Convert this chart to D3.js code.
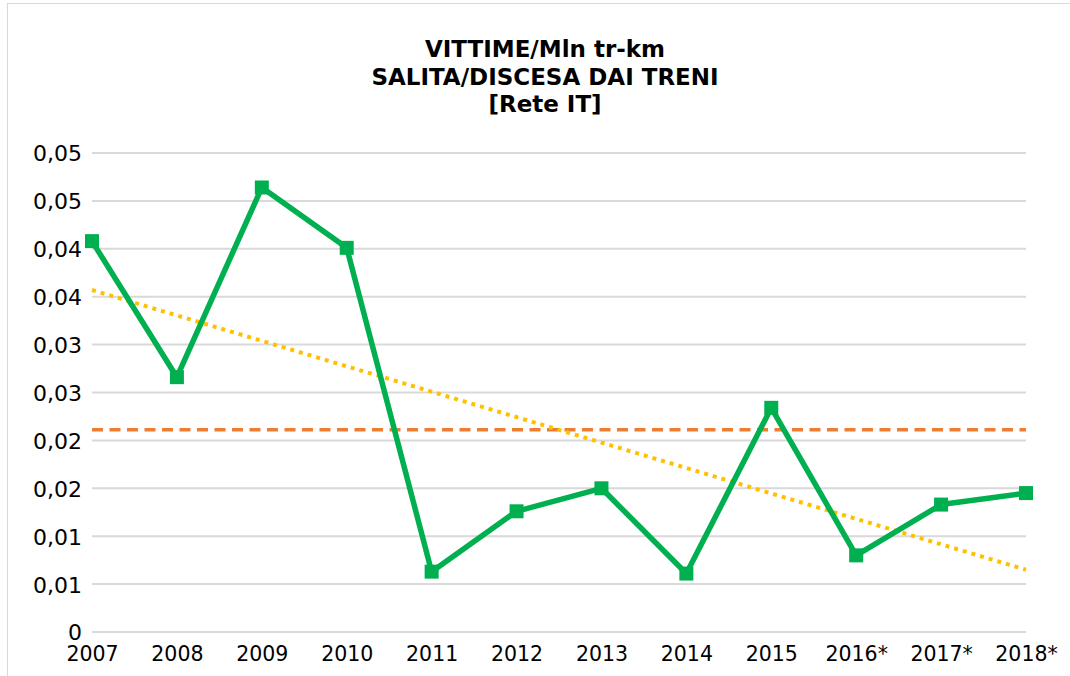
<!DOCTYPE html>
<html>
<head>
<meta charset="utf-8">
<script src="https://cdn.jsdelivr.net/npm/d3@7"></script>
<style>
  body { margin: 0; background: #fff; }
  svg { font-family: "DejaVu Sans", sans-serif; }
</style>
</head>
<body>
<svg id="chart"></svg>
<script>
const years = ["2007", "2008", "2009", "2010", "2011", "2012", "2013", "2014", "2015", "2016*", "2017*", "2018*"];
const victims = [0.0408, 0.0266, 0.0464, 0.0401, 0.0063, 0.0126, 0.0150, 0.0061, 0.0234, 0.0080, 0.0133, 0.0145];
const meanValue = [0.0211];
const trendEnds = [0.0357, 0.0065];
const yTicks = [0, 0.005, 0.01, 0.015, 0.02, 0.025, 0.03, 0.035, 0.04, 0.045, 0.05];
const titleLines = ["VITTIME/Mln tr-km", "SALITA/DISCESA DAI TRENI", "[Rete IT]"];

const W = 1070, H = 676;
const margin = { top: 153, right: 44, bottom: 44, left: 92 };
const width = W - margin.left - margin.right;
const height = H - margin.top - margin.bottom;

const svg = d3.select("#chart").attr("width", W).attr("height", H);

// chart frame
svg.append("rect")
  .attr("x", 7.5).attr("y", 3.5)
  .attr("width", W).attr("height", H)
  .attr("fill", "none").attr("stroke", "#d9d9d9");

// title
svg.append("text")
  .attr("x", 545).attr("y", 57)
  .attr("text-anchor", "middle")
  .style("font-weight", "bold").style("font-size", "23px")
  .selectAll("tspan")
  .data(titleLines)
  .enter().append("tspan")
  .attr("x", 545)
  .attr("dy", (d, i) => i === 0 ? 0 : 27.5)
  .text(d => d);

const g = svg.append("g").attr("transform", "translate(" + margin.left + "," + margin.top + ")");

const x = d3.scalePoint().domain(years).range([0, width]);
const y = d3.scaleLinear().domain([0, 0.05]).range([height, 0]);

const fmt = v => v === 0 ? "0" : d3.format(".2f")(v + 1e-9).replace(".", ",");

// gridlines
g.append("g")
  .selectAll("line")
  .data(yTicks)
  .enter().append("line")
  .attr("x1", 0).attr("x2", width)
  .attr("y1", d => y(d)).attr("y2", d => y(d))
  .attr("stroke", "#d9d9d9").attr("stroke-width", 2);

// Y Axis
const yAxis = g.append("g")
  .call(d3.axisLeft(y).tickValues(yTicks).tickFormat(fmt).tickSize(0).tickPadding(10));
yAxis.select(".domain").remove();
yAxis.selectAll("text")
  .attr("dy", "0.36em")
  .style("font-size", "22px").style("font-family", "DejaVu Sans").attr("fill", "#000");

// X Axis
const xAxis = g.append("g")
  .attr("transform", "translate(0," + height + ")")
  .call(d3.axisBottom(x).tickSize(0).tickPadding(14));
xAxis.select(".domain").remove();
xAxis.selectAll("text")
  .style("font-size", "20.5px").style("font-family", "DejaVu Sans").attr("fill", "#000");

// mean line
g.append("line")
  .attr("x1", 0).attr("x2", width)
  .attr("y1", y(meanValue[0])).attr("y2", y(meanValue[0]))
  .attr("stroke", "#ED7D31").attr("stroke-width", 3.5)
  .attr("stroke-dasharray", "11 6.5");

// trend line
g.append("line")
  .attr("x1", x(years[0])).attr("x2", x(years[years.length - 1]))
  .attr("y1", y(trendEnds[0])).attr("y2", y(trendEnds[1]))
  .attr("stroke", "#FFC000").attr("stroke-width", 4)
  .attr("stroke-dasharray", "4 5");

// data line
const line = d3.line()
  .x((d, i) => x(years[i]))
  .y(d => y(d));

g.append("path")
  .datum(victims)
  .attr("fill", "none")
  .attr("stroke", "#00B050")
  .attr("stroke-width", 5.5)
  .attr("stroke-linejoin", "round")
  .attr("d", line);

// markers
g.selectAll(".dot")
  .data(victims)
  .enter().append("rect")
  .attr("class", "dot")
  .attr("x", (d, i) => x(years[i]) - 7)
  .attr("y", d => y(d) - 7)
  .attr("width", 14).attr("height", 14)
  .attr("fill", "#00B050");
</script>
</body>
</html>
